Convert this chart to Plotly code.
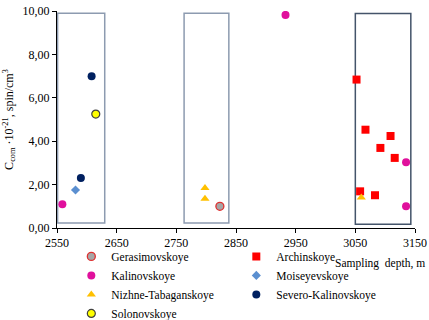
import plotly.graph_objects as go

# ---- data ----
gerasimovskoye_x = [2823]
gerasimovskoye_y = [1.00]

archinskoye_x = [3052, 3067, 3109, 3092, 3116, 3058, 3083]
archinskoye_y = [6.84, 4.53, 4.24, 3.69, 3.23, 1.69, 1.51]

kalinovskoye_x = [2933, 3135, 3135, 2559]
kalinovskoye_y = [9.82, 3.03, 1.00, 1.10]

moiseyevskoye_x = [2581]
moiseyevskoye_y = [1.75]

nizhne_x = [2798, 2798, 3060]
nizhne_y = [1.84, 1.35, 1.40]

severo_x = [2608, 2590]
severo_y = [6.99, 2.30]

solonovskoye_x = [2615]
solonovskoye_y = [5.25]

# field zones (depth ranges) outlined by rectangles
box_x0 = [2551, 2763, 3050]
box_x1 = [2630, 2838, 3143]
box_y0 = [0.23, 0.23, 0.17]
box_y1 = [9.90, 9.90, 9.88]
box_colors = ["#8d9bb0", "#8d9bb0", "#44546a"]

x_ticks = [2550, 2650, 2750, 2850, 2950, 3050, 3150]

FONT = "Times New Roman, Liberation Serif, serif"

fig = go.Figure()

def add(name, xs, ys, symbol, color, size=9, line_color=None, line_width=0):
    fig.add_trace(go.Scatter(
        x=xs, y=ys, mode="markers", name=name,
        marker=dict(symbol=symbol, color=color, size=size,
                    line=dict(color=line_color or color, width=line_width)),
    ))

add("Gerasimovskoye", gerasimovskoye_x, gerasimovskoye_y, "circle", "#a6a6a6", 8, "#e03030", 1.3)
add("Archinskoye", archinskoye_x, archinskoye_y, "square", "#ff0000", 8)
add("Kalinovskoye", kalinovskoye_x, kalinovskoye_y, "circle", "#e0109c", 8)
add("Moiseyevskoye", moiseyevskoye_x, moiseyevskoye_y, "diamond", "#5b8fd0", 7)
add("Nizhne-Tabaganskoye", nizhne_x, nizhne_y, "triangle-up", "#ffc000", 8)
add("Severo-Kalinovskoye", severo_x, severo_y, "circle", "#002060", 8)
add("Solonovskoye", solonovskoye_x, solonovskoye_y, "circle", "#ffff00", 8, "#404040", 1.2)

for x0, x1, y0, y1, c in zip(box_x0, box_x1, box_y0, box_y1, box_colors):
    fig.add_shape(type="rect", xref="x", yref="y", x0=x0, x1=x1, y0=y0, y1=y1,
                  line=dict(color=c, width=1.5), fillcolor="rgba(0,0,0,0)", layer="below")

fig.add_annotation(text="Sampling  depth, m", xref="paper", yref="paper",
                   x=1.033, y=-0.162, xanchor="right", yanchor="middle",
                   showarrow=False, font=dict(family=FONT, size=11.5, color="#000"))

fig.update_layout(
    width=429, height=320,
    margin=dict(l=57, r=14, t=11, b=92, pad=0, autoexpand=False),
    paper_bgcolor="white", plot_bgcolor="white",
    separators=",.",
    font=dict(family=FONT, size=12, color="#000"),
    showlegend=True,
    legend=dict(orientation="h", x=0.04, y=-0.064, xanchor="left", yanchor="top",
                entrywidth=120, entrywidthmode="pixels",
                font=dict(family=FONT, size=11.5, color="#000"),
                itemwidth=30, bgcolor="rgba(0,0,0,0)"),
    xaxis=dict(range=[2550, 3150], tickvals=x_ticks, ticktext=[str(v) for v in x_ticks],
               showgrid=False, zeroline=False, showline=True, linecolor="#000",
               linewidth=1, ticks="outside", ticklen=4, tickcolor="#000",
               tickfont=dict(family=FONT, size=12)),
    yaxis=dict(range=[0, 10], dtick=2, tickformat=".2f",
               showgrid=False, zeroline=False, showline=True, linecolor="#000",
               linewidth=1, ticks="outside", ticklen=4, tickcolor="#000",
               tickfont=dict(family=FONT, size=12),
               title=dict(text="C<sub>com</sub> ·10<sup>-21</sup>, spin/cm<sup>3</sup>",
                          font=dict(family=FONT, size=12), standoff=6)),
)

fig.write_html("out.html", config={"displayModeBar": False},
               post_script="document.body.style.margin='0';document.body.style.overflow='hidden';")
